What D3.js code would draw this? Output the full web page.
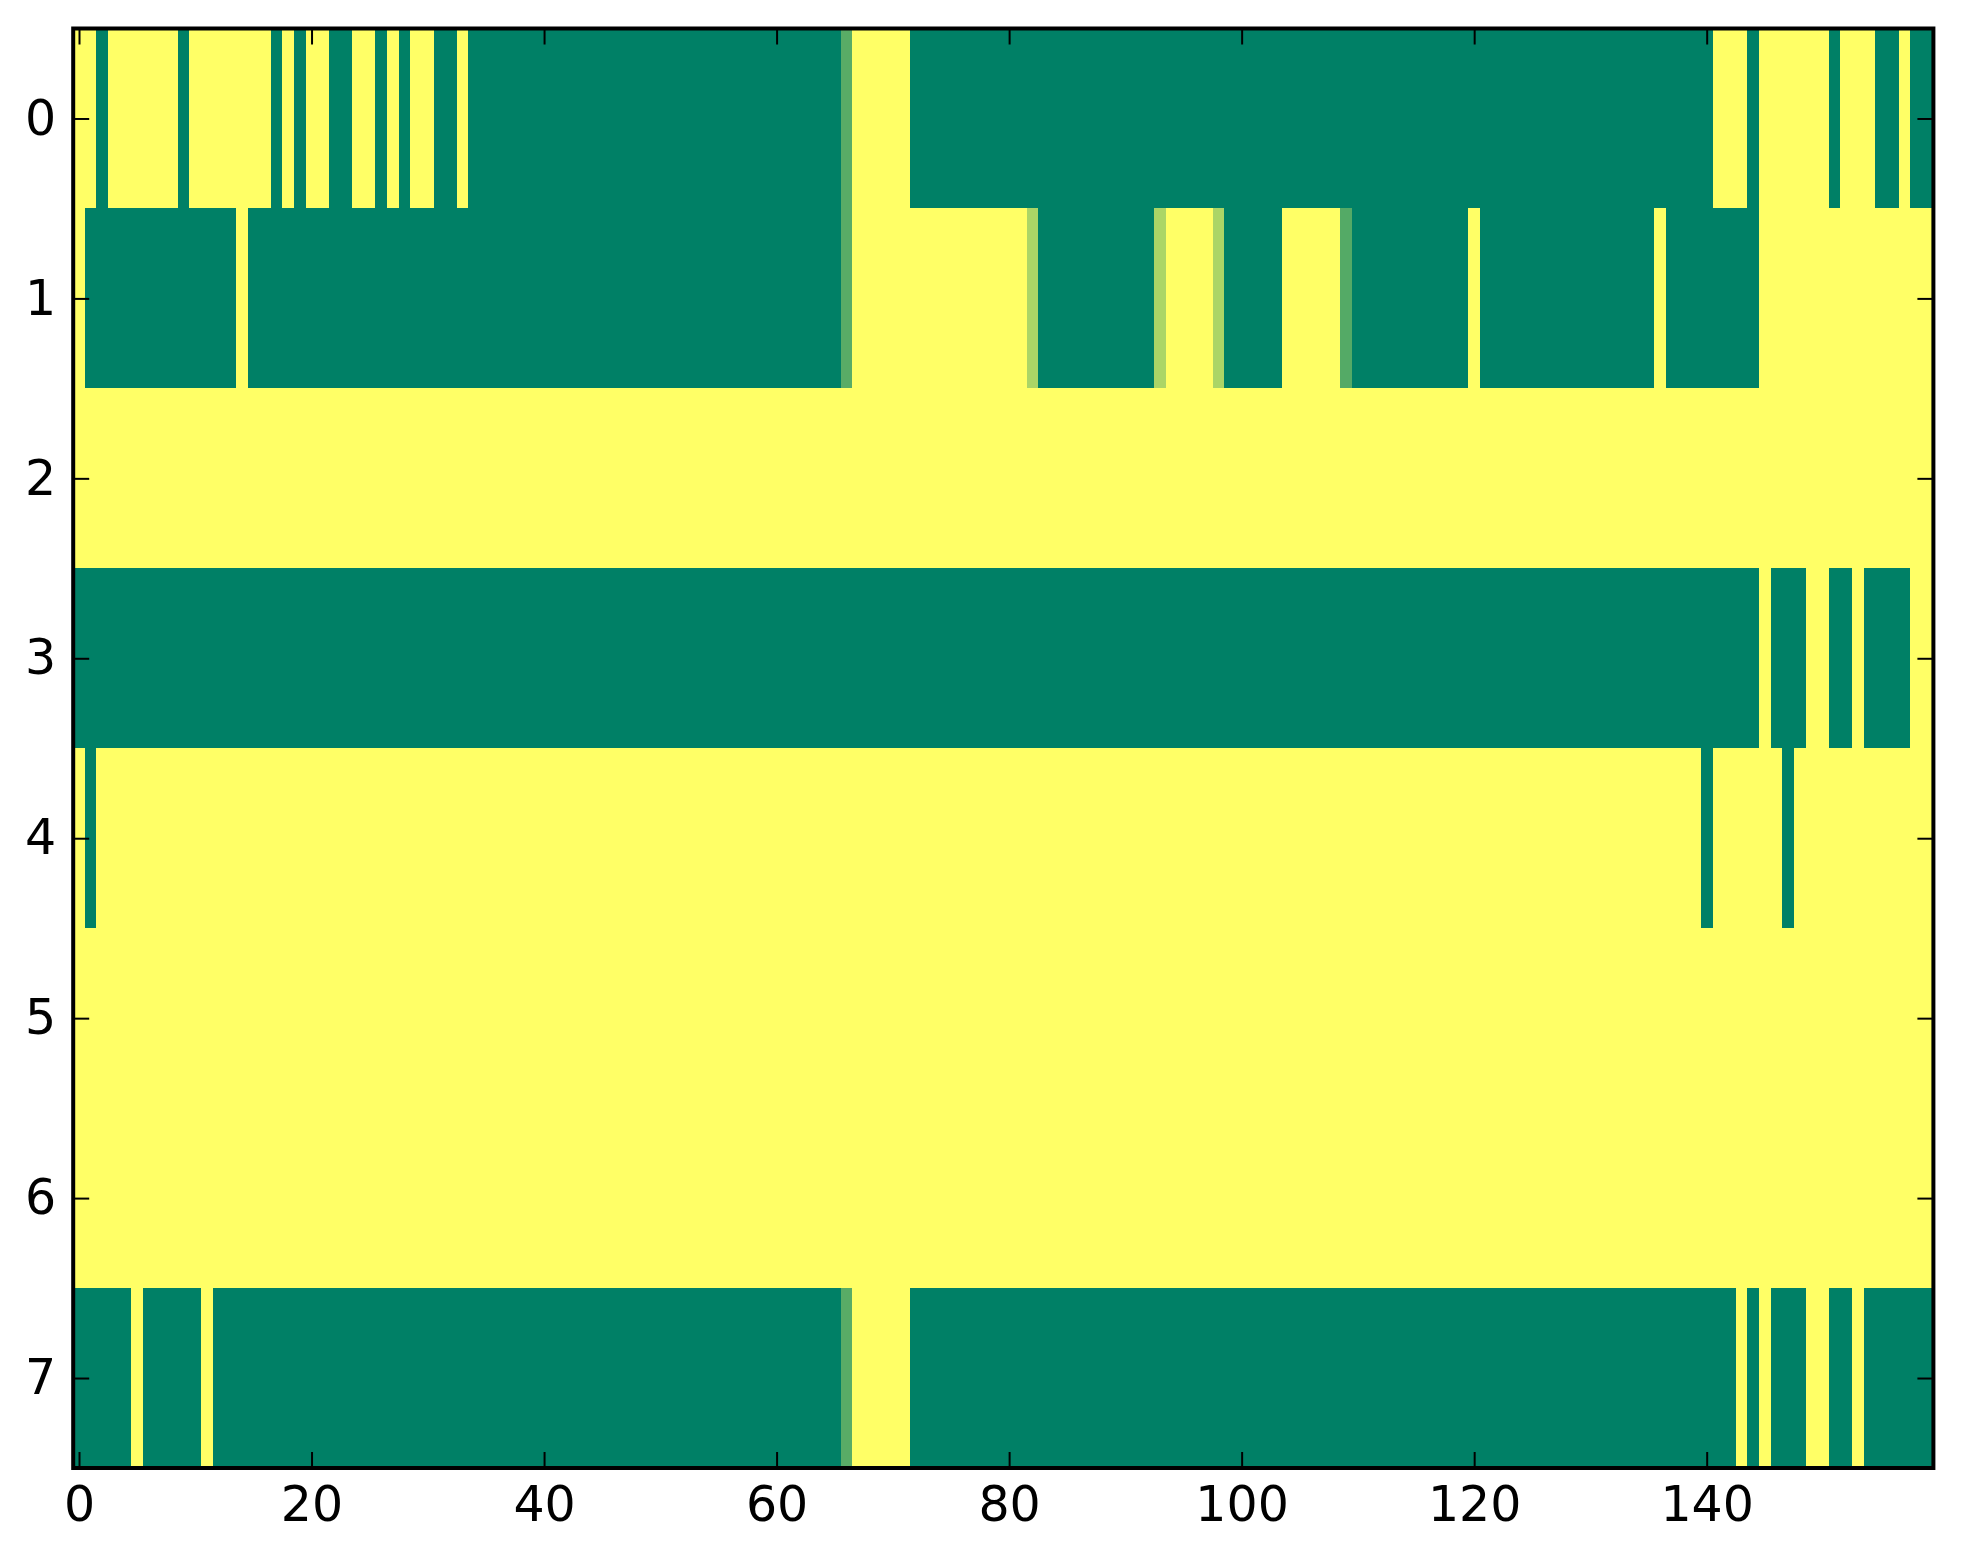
<!DOCTYPE html>
<html>
<head>
<meta charset="utf-8">
<script src="https://cdn.jsdelivr.net/npm/d3@7"></script>
<style>
  html, body { margin: 0; padding: 0; background: #ffffff; }
  svg { display: block; }
  .tick text { font-family: "DejaVu Sans", sans-serif; }
</style>
</head>
<body>
<svg id="chart" width="1963" height="1564"></svg>
<script>
// ---- data ----
const rowLabels = [0, 1, 2, 3, 4, 5, 6, 7];
const xTickValues = [0, 20, 40, 60, 80, 100, 120, 140];
const nCols = 160;

const row0 = [
  1,1,0,1,1,1,1,1,1,0,  1,1,1,1,1,1,1,0,1,0,  1,1,0,0,1,1,0,1,0,1,  1,0,0,1,0,0,0,0,0,0,
  0,0,0,0,0,0,0,0,0,0,  0,0,0,0,0,0,0,0,0,0,  0,0,0,0,0,0,0.35,1,1,1,  1,1,0,0,0,0,0,0,0,0,
  0,0,0,0,0,0,0,0,0,0,  0,0,0,0,0,0,0,0,0,0,  0,0,0,0,0,0,0,0,0,0,  0,0,0,0,0,0,0,0,0,0,
  0,0,0,0,0,0,0,0,0,0,  0,0,0,0,0,0,0,0,0,0,  0,1,1,1,0,1,1,1,1,1,  1,0,1,1,1,0,0,1,0,0
];
const row1 = [
  1,0,0,0,0,0,0,0,0,0,  0,0,0,0,1,0,0,0,0,0,  0,0,0,0,0,0,0,0,0,0,  0,0,0,0,0,0,0,0,0,0,
  0,0,0,0,0,0,0,0,0,0,  0,0,0,0,0,0,0,0,0,0,  0,0,0,0,0,0,0.35,1,1,1,  1,1,1,1,1,1,1,1,1,1,
  1,1,0.67,0,0,0,0,0,0,0,  0,0,0,0.67,1,1,1,1,0.67,0,  0,0,0,0,1,1,1,1,1,0.33,  0,0,0,0,0,0,0,0,0,0,
  1,0,0,0,0,0,0,0,0,0,  0,0,0,0,0,0,1,0,0,0,  0,0,0,0,0,1,1,1,1,1,  1,1,1,1,1,1,1,1,1,1
];
const row2 = [
  1,1,1,1,1,1,1,1,1,1,  1,1,1,1,1,1,1,1,1,1,  1,1,1,1,1,1,1,1,1,1,  1,1,1,1,1,1,1,1,1,1,
  1,1,1,1,1,1,1,1,1,1,  1,1,1,1,1,1,1,1,1,1,  1,1,1,1,1,1,1,1,1,1,  1,1,1,1,1,1,1,1,1,1,
  1,1,1,1,1,1,1,1,1,1,  1,1,1,1,1,1,1,1,1,1,  1,1,1,1,1,1,1,1,1,1,  1,1,1,1,1,1,1,1,1,1,
  1,1,1,1,1,1,1,1,1,1,  1,1,1,1,1,1,1,1,1,1,  1,1,1,1,1,1,1,1,1,1,  1,1,1,1,1,1,1,1,1,1
];
const row3 = [
  0,0,0,0,0,0,0,0,0,0,  0,0,0,0,0,0,0,0,0,0,  0,0,0,0,0,0,0,0,0,0,  0,0,0,0,0,0,0,0,0,0,
  0,0,0,0,0,0,0,0,0,0,  0,0,0,0,0,0,0,0,0,0,  0,0,0,0,0,0,0,0,0,0,  0,0,0,0,0,0,0,0,0,0,
  0,0,0,0,0,0,0,0,0,0,  0,0,0,0,0,0,0,0,0,0,  0,0,0,0,0,0,0,0,0,0,  0,0,0,0,0,0,0,0,0,0,
  0,0,0,0,0,0,0,0,0,0,  0,0,0,0,0,0,0,0,0,0,  0,0,0,0,0,1,0,0,0,1,  1,0,0,1,0,0,0,0,1,1
];
const row4 = [
  1,0,1,1,1,1,1,1,1,1,  1,1,1,1,1,1,1,1,1,1,  1,1,1,1,1,1,1,1,1,1,  1,1,1,1,1,1,1,1,1,1,
  1,1,1,1,1,1,1,1,1,1,  1,1,1,1,1,1,1,1,1,1,  1,1,1,1,1,1,1,1,1,1,  1,1,1,1,1,1,1,1,1,1,
  1,1,1,1,1,1,1,1,1,1,  1,1,1,1,1,1,1,1,1,1,  1,1,1,1,1,1,1,1,1,1,  1,1,1,1,1,1,1,1,1,1,
  1,1,1,1,1,1,1,1,1,1,  1,1,1,1,1,1,1,1,1,1,  0,1,1,1,1,1,1,0,1,1,  1,1,1,1,1,1,1,1,1,1
];
const row5 = [
  1,1,1,1,1,1,1,1,1,1,  1,1,1,1,1,1,1,1,1,1,  1,1,1,1,1,1,1,1,1,1,  1,1,1,1,1,1,1,1,1,1,
  1,1,1,1,1,1,1,1,1,1,  1,1,1,1,1,1,1,1,1,1,  1,1,1,1,1,1,1,1,1,1,  1,1,1,1,1,1,1,1,1,1,
  1,1,1,1,1,1,1,1,1,1,  1,1,1,1,1,1,1,1,1,1,  1,1,1,1,1,1,1,1,1,1,  1,1,1,1,1,1,1,1,1,1,
  1,1,1,1,1,1,1,1,1,1,  1,1,1,1,1,1,1,1,1,1,  1,1,1,1,1,1,1,1,1,1,  1,1,1,1,1,1,1,1,1,1
];
const row6 = [
  1,1,1,1,1,1,1,1,1,1,  1,1,1,1,1,1,1,1,1,1,  1,1,1,1,1,1,1,1,1,1,  1,1,1,1,1,1,1,1,1,1,
  1,1,1,1,1,1,1,1,1,1,  1,1,1,1,1,1,1,1,1,1,  1,1,1,1,1,1,1,1,1,1,  1,1,1,1,1,1,1,1,1,1,
  1,1,1,1,1,1,1,1,1,1,  1,1,1,1,1,1,1,1,1,1,  1,1,1,1,1,1,1,1,1,1,  1,1,1,1,1,1,1,1,1,1,
  1,1,1,1,1,1,1,1,1,1,  1,1,1,1,1,1,1,1,1,1,  1,1,1,1,1,1,1,1,1,1,  1,1,1,1,1,1,1,1,1,1
];
const row7 = [
  0,0,0,0,0,1,0,0,0,0,  0,1,0,0,0,0,0,0,0,0,  0,0,0,0,0,0,0,0,0,0,  0,0,0,0,0,0,0,0,0,0,
  0,0,0,0,0,0,0,0,0,0,  0,0,0,0,0,0,0,0,0,0,  0,0,0,0,0,0,0.35,1,1,1,  1,1,0,0,0,0,0,0,0,0,
  0,0,0,0,0,0,0,0,0,0,  0,0,0,0,0,0,0,0,0,0,  0,0,0,0,0,0,0,0,0,0,  0,0,0,0,0,0,0,0,0,0,
  0,0,0,0,0,0,0,0,0,0,  0,0,0,0,0,0,0,0,0,0,  0,0,0,1,0,1,0,0,0,1,  1,0,0,1,0,0,0,0,0,0
];
const rows = [row0, row1, row2, row3, row4, row5, row6, row7];

(function () {
  // ---- layout ----
  const pLeft = 73.2, pRight = 1933.4, pTop = 28.5, pBottom = 1468;
  const svg = d3.select("#chart");

  const x = d3.scaleLinear().domain([-0.5, nCols - 0.5]).range([pLeft, pRight]);
  const y = d3.scaleLinear().domain([-0.5, rowLabels.length - 0.5]).range([pTop, pBottom]);
  // matplotlib "summer" colormap: linear from (0,0.5,0.4) to (1,1,0.4)
  const color = d3.scaleLinear().domain([0, 1])
    .range(["rgb(0,128,102)", "rgb(255,255,102)"])
    .interpolate(d3.interpolateRgb);

  const cells = [];
  rows.forEach((r, ri) => r.forEach((v, ci) => cells.push({ r: ri, c: ci, v })));

  svg.append("g")
    .selectAll("rect")
    .data(cells)
    .join("rect")
    .attr("x", d => x(d.c - 0.5))
    .attr("y", d => y(d.r - 0.5))
    .attr("width", d => x(d.c + 0.5) - x(d.c - 0.5) + 0.6)
    .attr("height", d => y(d.r + 0.5) - y(d.r - 0.5) + 0.6)
    .attr("fill", d => color(d.v))
    .attr("shape-rendering", "crispEdges");

  // ---- axes ----
  const tickLen = 16, fontSize = 49;

  const gx = svg.append("g").attr("transform", `translate(0,${pBottom})`)
    .call(d3.axisBottom(x).tickValues(xTickValues).tickFormat(d3.format("d"))
      .tickSizeInner(-tickLen).tickSizeOuter(0).tickPadding(18));
  const gxt = svg.append("g").attr("transform", `translate(0,${pTop})`)
    .call(d3.axisTop(x).tickValues(xTickValues).tickFormat("")
      .tickSizeInner(-tickLen).tickSizeOuter(0));
  const gy = svg.append("g").attr("transform", `translate(${pLeft},0)`)
    .call(d3.axisLeft(y).tickValues(rowLabels).tickFormat(d3.format("d"))
      .tickSizeInner(-tickLen).tickSizeOuter(0).tickPadding(17));
  const gyr = svg.append("g").attr("transform", `translate(${pRight},0)`)
    .call(d3.axisRight(y).tickValues(rowLabels).tickFormat("")
      .tickSizeInner(-tickLen).tickSizeOuter(0));

  [gx, gxt, gy, gyr].forEach(g => {
    g.select(".domain").remove();
    g.selectAll(".tick line").attr("stroke", "#000").attr("stroke-width", 2);
    g.selectAll(".tick text")
      .attr("fill", "#000")
      .style("font-family", "'DejaVu Sans', sans-serif")
      .style("font-size", fontSize + "px");
  });

  // frame
  svg.append("rect")
    .attr("x", pLeft).attr("y", pTop)
    .attr("width", pRight - pLeft).attr("height", pBottom - pTop)
    .attr("fill", "none").attr("stroke", "#000").attr("stroke-width", 4);
})();
</script>
</body>
</html>
